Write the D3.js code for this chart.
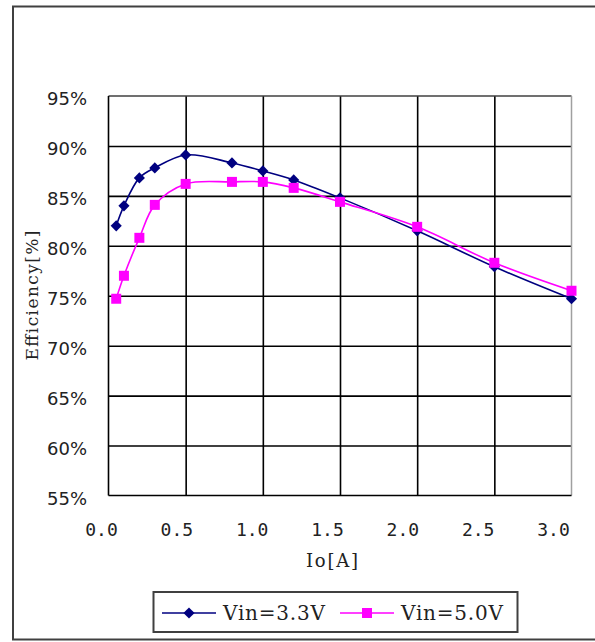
<!DOCTYPE html>
<html>
<head>
<meta charset="utf-8">
<script src="https://cdn.jsdelivr.net/npm/d3@7"></script>
<style>
  html, body { margin: 0; padding: 0; background: #fff; }
  svg { display: block; }
</style>
</head>
<body>
<svg id="chart" width="595" height="642"></svg>
<script>
// ---- data ----
const ioA = [0.05, 0.1, 0.2, 0.3, 0.5, 0.8, 1.0, 1.2, 1.5, 2.0, 2.5, 3.0];
const vin33 = [82.0, 84.0, 86.8, 87.8, 89.1, 88.3, 87.5, 86.6, 84.8, 81.5, 77.9, 74.7];
const vin50 = [74.7, 77.0, 80.8, 84.1, 86.2, 86.4, 86.4, 85.8, 84.4, 81.9, 78.3, 75.5];
const seriesNames = ["Vin=3.3V", "Vin=5.0V"];
const xTicks = [0, 0.5, 1.0, 1.5, 2.0, 2.5, 3.0];
const yTicks = [55, 60, 65, 70, 75, 80, 85, 90, 95];
const xTitle = "Io[A]";
const yTitle = "Efficiency[%]";

const svg = d3.select("#chart");
const L = 108.5, R = 571.5, T = 96, B = 495.5;
const x = d3.scaleLinear().domain([0, 3]).range([L, R]);
const xLab = d3.scaleLinear().domain([0, 3]).range([101, 553]);
const y = d3.scaleLinear().domain([55, 95]).range([B, T]);
const serif = "DejaVu Serif, Liberation Serif, serif";

// outer chart border
svg.append("rect").attr("x", 13).attr("y", 6.5).attr("width", 600).attr("height", 633)
  .attr("fill", "#fff").attr("stroke", "#404040").attr("stroke-width", 2);

// plot area
svg.append("rect").attr("x", L).attr("y", T).attr("width", R - L).attr("height", B - T)
  .attr("fill", "#fff");

// gridlines
const gy = svg.append("g").attr("transform", `translate(${L},0)`)
  .call(d3.axisLeft(y).tickValues(yTicks.filter(d => d > 55 && d < 95)).tickSize(-(R - L)).tickFormat(""));
gy.select(".domain").remove();
gy.selectAll("line").attr("stroke", "#000").attr("stroke-width", 1.6);

const gx = svg.append("g").attr("transform", `translate(0,${B})`)
  .call(d3.axisBottom(x).tickValues(xTicks.filter(d => d > 0 && d < 3)).tickSize(-(B - T)).tickFormat(""));
gx.select(".domain").remove();
gx.selectAll("line").attr("stroke", "#000").attr("stroke-width", 1.6);

// plot borders
svg.append("line").attr("x1", L).attr("x2", R).attr("y1", T).attr("y2", T).attr("stroke", "#404040").attr("stroke-width", 1.5);
svg.append("line").attr("x1", R).attr("x2", R).attr("y1", T).attr("y2", B).attr("stroke", "#a0a0a0").attr("stroke-width", 1.5);
svg.append("line").attr("x1", L).attr("x2", L).attr("y1", T).attr("y2", B).attr("stroke", "#000").attr("stroke-width", 1.6);
svg.append("line").attr("x1", L).attr("x2", R).attr("y1", B).attr("y2", B).attr("stroke", "#000").attr("stroke-width", 1.6);

// axis labels
const ya = svg.append("g").attr("transform", `translate(87,3)`)
  .call(d3.axisLeft(y).tickValues(yTicks).tickSize(0).tickPadding(0).tickFormat(d => d + "%"));
ya.select(".domain").remove();
ya.selectAll("text").attr("font-family", "DejaVu Sans, sans-serif").attr("font-size", 18)
  .attr("fill", "#222");

const xa = svg.append("g").attr("transform", `translate(0,523)`)
  .call(d3.axisBottom(xLab).tickValues(xTicks).tickSize(0).tickPadding(0).tickFormat(d3.format(".1f")));
xa.select(".domain").remove();
xa.selectAll("text").attr("font-family", "DejaVu Sans Mono, monospace").attr("font-size", 18)
  .attr("fill", "#222");

// titles
svg.append("text").attr("x", 332).attr("y", 567).attr("text-anchor", "middle")
  .attr("font-family", serif).attr("font-size", 18).attr("fill", "#222")
  .attr("textLength", 52).attr("lengthAdjust", "spacing")
  .text(xTitle);
svg.append("text").attr("transform", "translate(38,295.5) rotate(-90)").attr("text-anchor", "middle")
  .attr("font-family", serif).attr("font-size", 17).attr("fill", "#222")
  .attr("textLength", 130).attr("lengthAdjust", "spacing")
  .text(yTitle);

// lines
const curve = d3.curveCatmullRom.alpha(0.5);
const mk = vals => d3.line().x((d, i) => x(ioA[i])).y(d => y(d)).curve(curve)(vals);
const colors = ["#000080", "#ff00ff"];
const series = [vin33, vin50];

series.forEach((vals, si) => {
  svg.append("path").attr("d", mk(vals)).attr("fill", "none")
    .attr("stroke", colors[si]).attr("stroke-width", 1.6);
});

function drawMarker(g, si, cx, cy) {
  if (si === 0) {
    g.append("path").attr("d", d3.symbol().type(d3.symbolSquare).size(62)())
      .attr("transform", `translate(${cx},${cy}) rotate(45)`).attr("fill", colors[0]);
  } else {
    g.append("path").attr("d", d3.symbol().type(d3.symbolSquare).size(100)())
      .attr("transform", `translate(${cx},${cy})`).attr("fill", colors[1]);
  }
}
const mg = svg.append("g");
series.forEach((vals, si) => {
  vals.forEach((v, i) => drawMarker(mg, si, x(ioA[i]), y(v)));
});

// legend
svg.append("rect").attr("x", 153.5).attr("y", 592).attr("width", 364).attr("height", 40)
  .attr("fill", "#fff").attr("stroke", "#404040").attr("stroke-width", 2);
const legX = [162, 340];
seriesNames.forEach((name, si) => {
  const lx = legX[si];
  svg.append("line").attr("x1", lx).attr("x2", lx + 54).attr("y1", 613).attr("y2", 613)
    .attr("stroke", colors[si]).attr("stroke-width", 1.6);
  drawMarker(svg, si, lx + 27, 613);
  svg.append("text").attr("x", lx + 61).attr("y", 620)
    .attr("font-family", serif).attr("font-size", 20).attr("fill", "#222")
    .attr("textLength", 102).attr("lengthAdjust", "spacing")
    .text(name);
});
</script>
</body>
</html>
